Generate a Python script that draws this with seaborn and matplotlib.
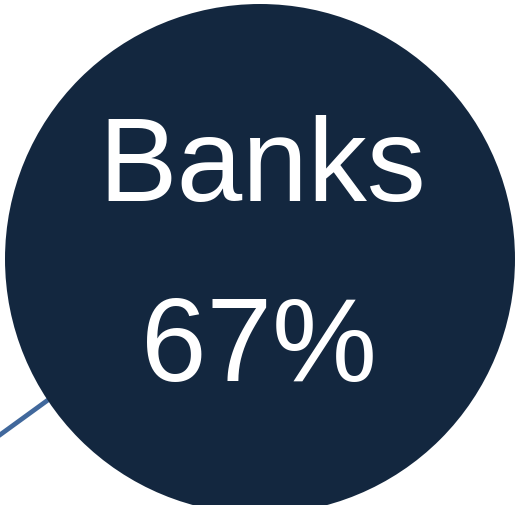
import matplotlib
matplotlib.use("Agg")
import matplotlib.pyplot as plt
import seaborn as sns
import pandas as pd

# Data
categories = ["Banks"]
shares = [67]
bubble_x = [260]
bubble_y = [259]
bubble_radius_px = [255]
link_x = [-120, 260]
link_y = [522, 246]

sns.set_theme(style="white")
plt.rcParams['font.family'] = ['Liberation Sans', 'DejaVu Sans']

W, H, DPI = 520, 505, 100
fig = plt.figure(figsize=(W / DPI, H / DPI), dpi=DPI)
ax = fig.add_axes([0, 0, 1, 1])
ax.set_xlim(0, W)
ax.set_ylim(H, 0)
ax.axis("off")

links = pd.DataFrame({"x": link_x, "y": link_y})
sns.lineplot(data=links, x="x", y="y", ax=ax, color="#41689c", linewidth=3.4,
             sort=False, estimator=None, zorder=1)

df = pd.DataFrame({"x": bubble_x, "y": bubble_y, "cat": categories,
                   "share": shares, "r": bubble_radius_px})
s_vals = [(2 * r * 72 / DPI) ** 2 for r in df["r"]]
sns.scatterplot(data=df, x="x", y="y", s=s_vals[0], color="#13273f",
                edgecolor="none", linewidth=0, ax=ax, legend=False, zorder=2)

for _, row in df.iterrows():
    ax.text(row["x"] + 2, row["y"] - 89, row["cat"], color="white", fontsize=85,
            ha="center", va="center", zorder=3)
    ax.text(row["x"] - 1, row["y"] + 92, f"{row['share']}%", color="white", fontsize=85,
            ha="center", va="center", zorder=3)

ax.set_xlabel("")
ax.set_ylabel("")
fig.savefig("out.png", dpi=DPI)
